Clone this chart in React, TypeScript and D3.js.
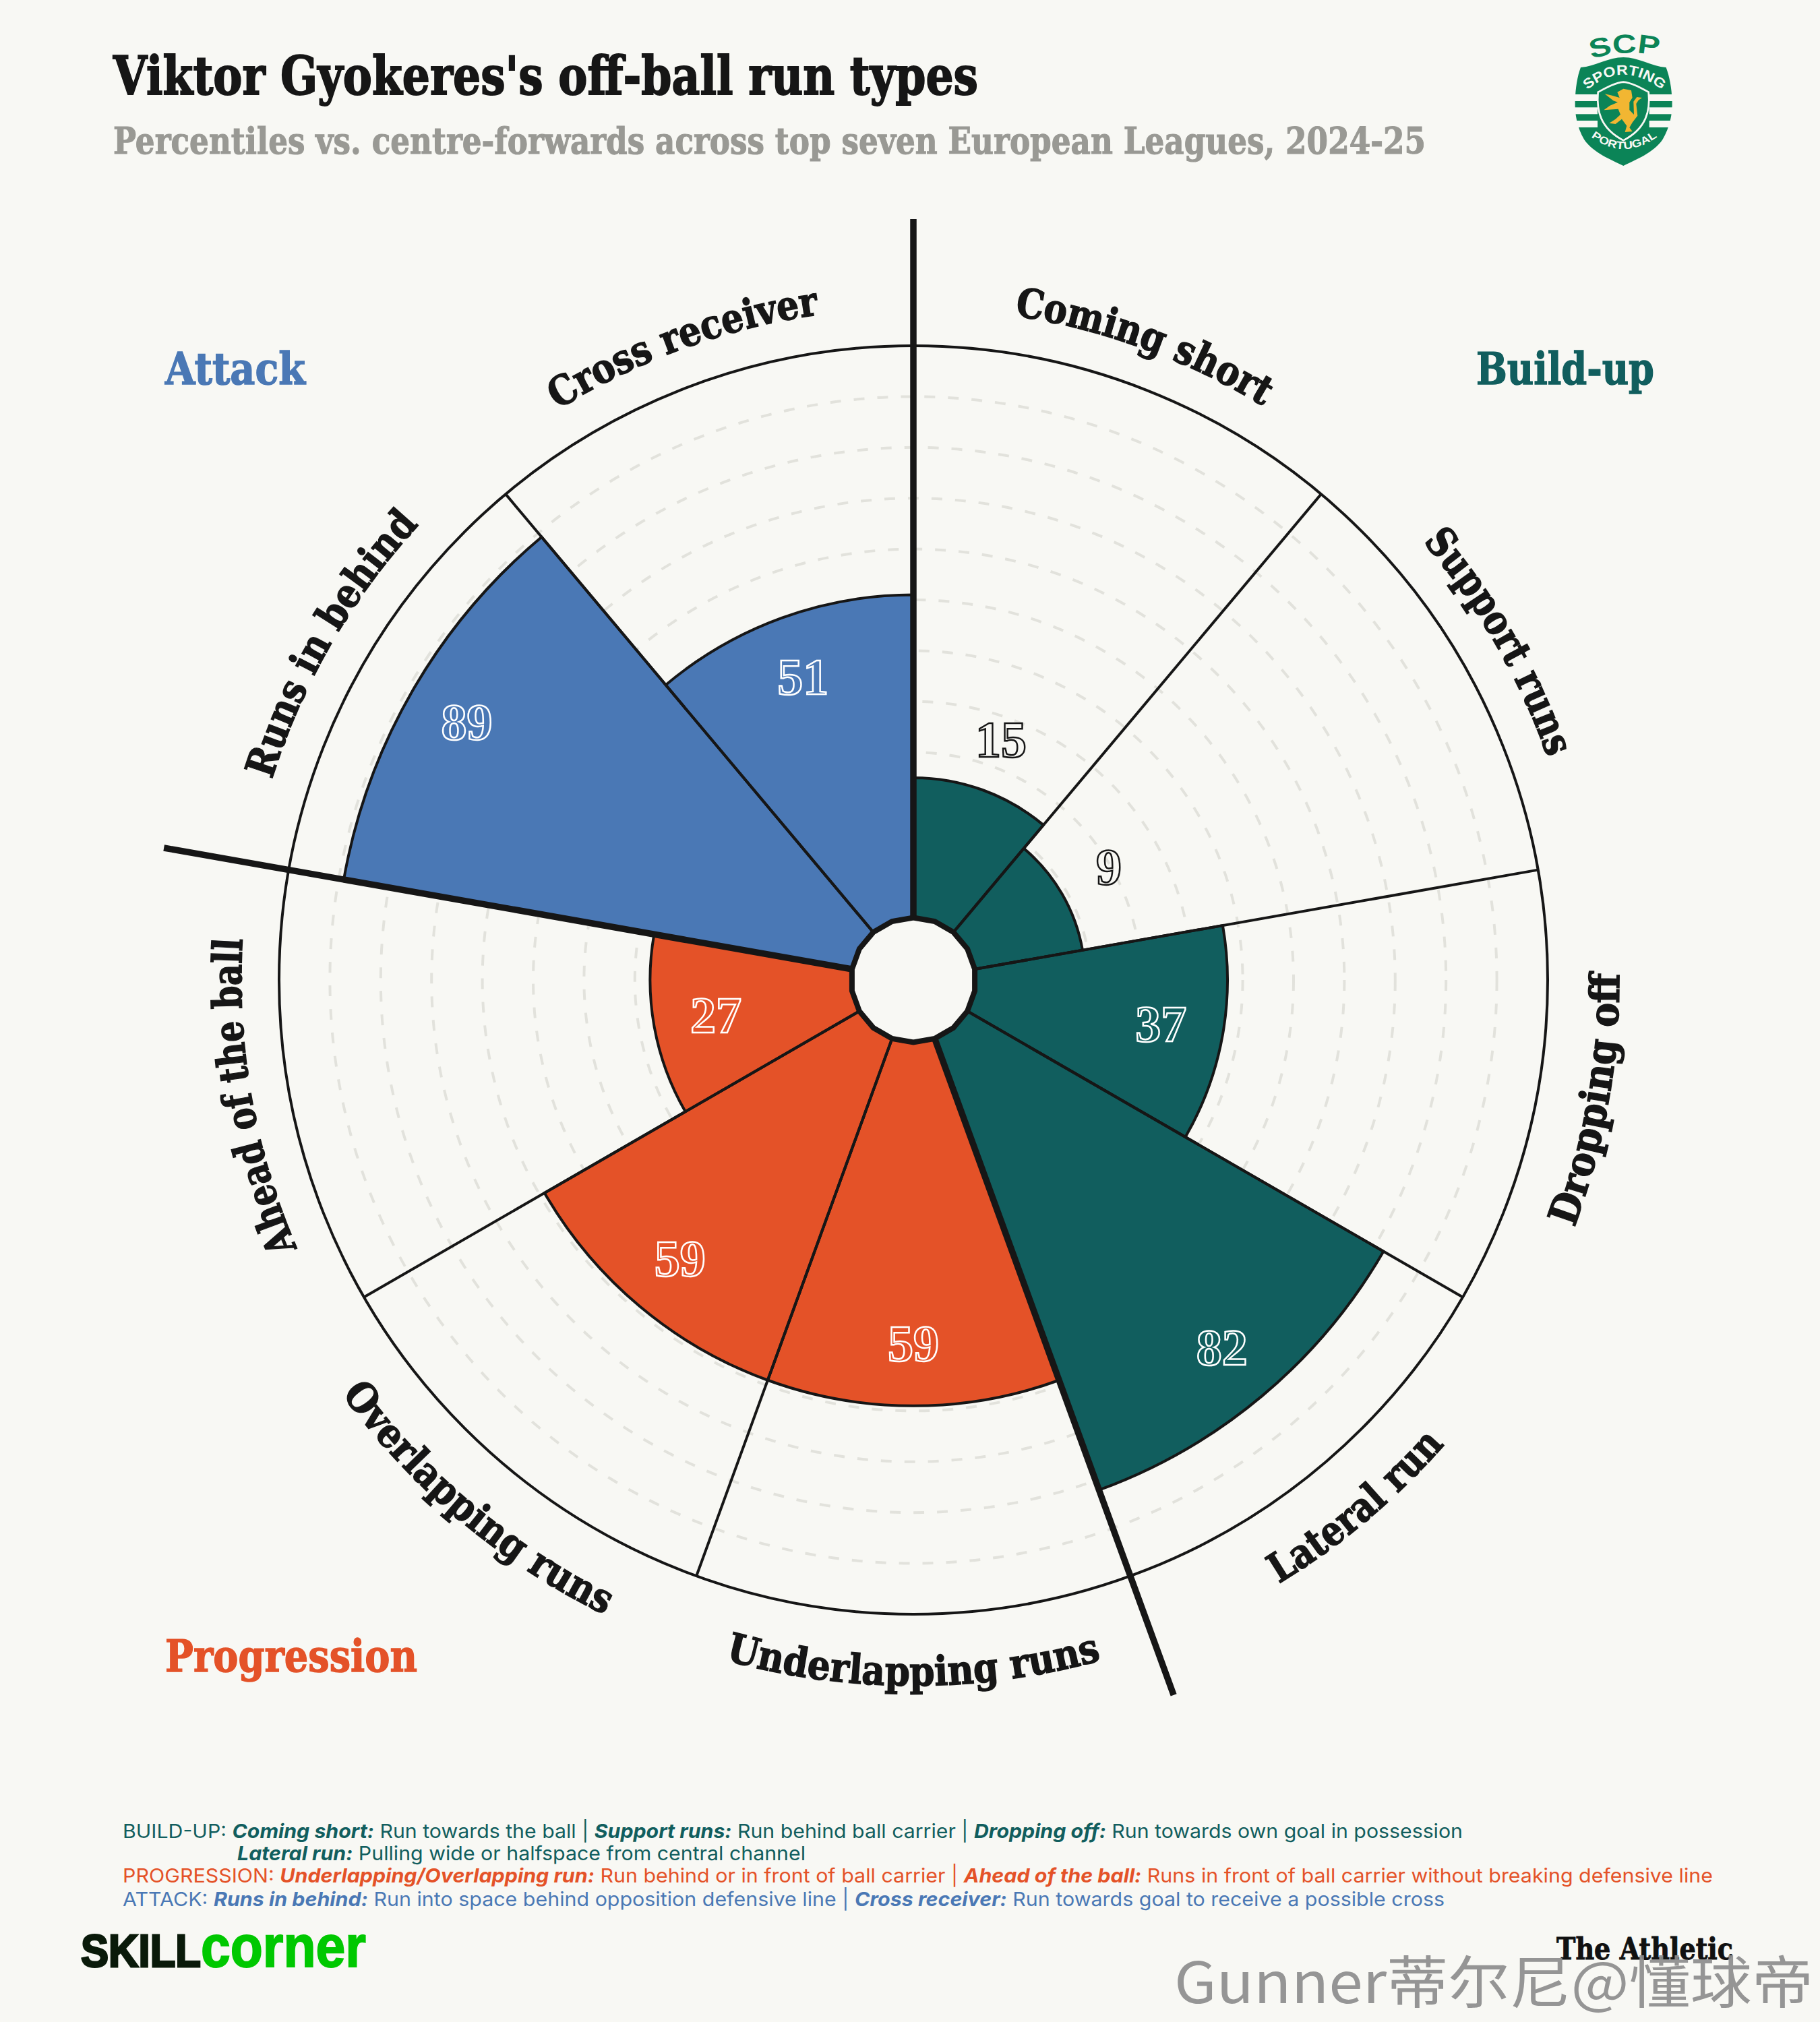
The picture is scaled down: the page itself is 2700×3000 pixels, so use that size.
import * as d3 from 'd3'

const categories = [
  'Coming short',
  'Support runs',
  'Dropping off',
  'Lateral run',
  'Underlapping runs',
  'Overlapping runs',
  'Ahead of the ball',
  'Runs in behind',
  'Cross receiver',
]
const percentiles = [15, 9, 37, 82, 59, 59, 27, 89, 51]
const groups = ['Build-up', 'Build-up', 'Build-up', 'Build-up', 'Progression', 'Progression', 'Progression', 'Attack', 'Attack']
const ringTicks = [10, 20, 30, 40, 50, 60, 70, 80, 90]

const buildUpLine = [
  ['BUILD-UP: ', false],
  ['Coming short:', true],
  [' Run towards the ball | ', false],
  ['Support runs:', true],
  [' Run behind ball carrier | ', false],
  ['Dropping off:', true],
  [' Run towards own goal in possession', false],
]
const lateralLine = [
  ['Lateral run:', true],
  [' Pulling wide or halfspace from central channel', false],
]
const progressionLine = [
  ['PROGRESSION: ', false],
  ['Underlapping/Overlapping run:', true],
  [' Run behind or in front of ball carrier | ', false],
  ['Ahead of the ball:', true],
  [' Runs in front of ball carrier without breaking defensive line', false],
]
const attackLine = [
  ['ATTACK: ', false],
  ['Runs in behind:', true],
  [' Run into space behind opposition defensive line | ', false],
  ['Cross receiver:', true],
  [' Run towards goal to receive a possible cross', false],
]

const WIDTH = 2700
const HEIGHT = 3000
const CX = 1355
const CY = 1454
const OUTER = 941
const HOLE = 92.5
const SPIKE = 1129
const LABEL_R = 1014

const BG = '#f8f8f4'
const INK = '#161616'
const colors: Record<string, string> = { 'Build-up': '#115e5e', Progression: '#e45228', Attack: '#4a78b5' }
const SLAB = '"DejaVu Serif", serif'
const BODY = 'Inter, "Noto Sans", sans-serif'

// arc lengths of the curved labels
const labelLengths: Record<string, number> = {
  'Coming short': 395,
  'Support runs': 372,
  'Dropping off': 385,
  'Lateral run': 322,
  'Underlapping runs': 565,
  'Overlapping runs': 515,
  'Ahead of the ball': 470,
  'Runs in behind': 440,
  'Cross receiver': 415,
}

const angle = d3.scaleBand<string>().domain(categories).range([0, 2 * Math.PI])
const radius = d3.scaleLinear().domain([0, 100]).range([187, OUTER])
const arc = d3.arc()

function labelPath(mid: number, flip: boolean, r: number) {
  const half = Math.PI / 3
  const from = d3.pointRadial(flip ? mid + half : mid - half, r)
  const to = d3.pointRadial(flip ? mid - half : mid + half, r)
  return `M${from[0]},${from[1]}A${r},${r} 0 0 ${flip ? 0 : 1} ${to[0]},${to[1]}`
}

function FooterLine({ line, x, y, color, length }: { line: (string | boolean)[][]; x: number; y: number; color: string; length: number }) {
  return (
    <text x={x} y={y} fill={color} fontFamily={BODY} fontSize={29} textLength={length} lengthAdjust="spacingAndGlyphs">
      {line.map(([t, bold], i) => (
        <tspan key={i} fontWeight={bold ? 700 : 400} fontStyle={bold ? 'italic' : 'normal'} xmlSpace="preserve">
          {t as string}
        </tspan>
      ))}
    </text>
  )
}

function Crest() {
  const green = '#0b8457'
  return (
    <g transform="translate(2280,30) scale(0.3333)">
      <defs>
        <path id="crest-scp" d="M235,175 Q385,125 550,160" />
        <path id="crest-sporting" d="M225,310 Q385,175 555,310" />
        <path id="crest-portugal" d="M232,512 Q385,635 545,512" />
      </defs>
      <text fontFamily="'Liberation Sans', sans-serif" fontWeight={700} fontSize={118} fill={green}>
        <textPath href="#crest-scp" startOffset="50%" textAnchor="middle" textLength={305} lengthAdjust="spacingAndGlyphs">SCP</textPath>
      </text>
      <path
        d="M195,210C260,205 320,165 385,165C450,165 510,205 575,210C590,250 600,300 602,360C604,420 590,480 560,530C520,590 440,620 385,648C330,620 250,590 210,530C180,480 168,420 170,360C172,300 180,250 195,210Z"
        fill={green}
      />
      {[330, 388, 447].map(y => (
        <g key={y} fill={BG}>
          <rect x={165} y={y} width={105} height={30} />
          <rect x={500} y={y} width={105} height={30} />
        </g>
      ))}
      <path
        d="M272,320C310,300 350,278 385,275C420,278 460,300 497,320C505,400 490,480 385,535C280,480 265,400 272,320Z"
        fill={green}
        stroke={BG}
        strokeWidth={8}
      />
      <path
        d="M358,320L385,305L420,312L425,345L412,365L412,400L432,420L430,362L445,342L468,345L452,356L442,372L448,425L425,455L412,478L425,495L392,498L400,470L378,440L350,462L322,458L350,440L372,420L362,395L298,400L325,380L360,365L340,358L302,328L335,335L368,345Z"
        fill="#f2b632"
      />
      <text fontFamily="'Liberation Sans', sans-serif" fontWeight={700} fontSize={62} fill={BG}>
        <textPath href="#crest-sporting" startOffset="50%" textAnchor="middle" textLength={365} lengthAdjust="spacingAndGlyphs">SPORTING</textPath>
      </text>
      <text fontFamily="'Liberation Sans', sans-serif" fontWeight={700} fontSize={48} fill={BG}>
        <textPath href="#crest-portugal" startOffset="50%" textAnchor="middle" textLength={320} lengthAdjust="spacingAndGlyphs">PORTUGAL</textPath>
      </text>
    </g>
  )
}

export default function App() {
  const hole = d3.lineRadial().curve(d3.curveLinearClosed)(
    d3.range(18).map(i => [(i * Math.PI) / 9, HOLE] as [number, number])
  )
  const band = angle.bandwidth()

  return (
    <svg width={WIDTH} height={HEIGHT} viewBox={`0 0 ${WIDTH} ${HEIGHT}`} style={{ position: 'absolute', left: 0, top: 0, display: 'block' }}>
      <rect width={WIDTH} height={HEIGHT} fill={BG} />

      <text x={168} y={140} fontFamily={SLAB} fontWeight={700} fontSize={78} fill={INK} stroke={INK} strokeWidth={2} textLength={1283} lengthAdjust="spacingAndGlyphs">
        Viktor Gyokeres's off-ball run types
      </text>
      <text x={168} y={228} fontFamily={SLAB} fontWeight={700} fontSize={55} fill="#999994" stroke="#999994" strokeWidth={1.2} textLength={1947} lengthAdjust="spacingAndGlyphs">
        Percentiles vs. centre-forwards across top seven European Leagues, 2024-25
      </text>
      <Crest />

      <g fontFamily={SLAB} fontWeight={700} fontSize={66} strokeWidth={1.5}>
        <text x={245} y={570} fill={colors.Attack} stroke={colors.Attack} textLength={208} lengthAdjust="spacingAndGlyphs">Attack</text>
        <text x={2190} y={570} fill={colors['Build-up']} stroke={colors['Build-up']} textLength={264} lengthAdjust="spacingAndGlyphs">Build-up</text>
        <text x={245} y={2480} fill={colors.Progression} stroke={colors.Progression} textLength={374} lengthAdjust="spacingAndGlyphs">Progression</text>
      </g>

      <g transform={`translate(${CX},${CY})`}>
        <circle r={OUTER} fill="none" stroke={INK} strokeWidth={4} />
        {ringTicks.map(t => (
          <circle key={t} r={radius(t)} fill="none" stroke="#e2e2dc" strokeWidth={4} strokeDasharray="16 19" />
        ))}

        {categories.map((c, i) => {
          const start = angle(c) as number
          return (
            <path
              key={c}
              d={arc({ innerRadius: HOLE, outerRadius: radius(percentiles[i]), startAngle: start, endAngle: start + band }) as string}
              fill={colors[groups[i]]}
              stroke={INK}
              strokeWidth={4}
            />
          )
        })}

        {categories.map(c => {
          const [x, y] = d3.pointRadial(angle(c) as number, OUTER)
          return <line key={c} x1={0} y1={0} x2={x} y2={y} stroke={INK} strokeWidth={4} />
        })}
        {categories
          .filter((c, i) => i === 0 || groups[i] !== groups[i - 1])
          .map(c => {
            const [x, y] = d3.pointRadial(angle(c) as number, SPIKE)
            return <line key={c} x1={0} y1={0} x2={x} y2={y} stroke={INK} strokeWidth={9.5} />
          })}

        <path d={hole as string} fill={BG} stroke={INK} strokeWidth={8} />

        {categories.map((c, i) => {
          const mid = (angle(c) as number) + band / 2
          const inside = percentiles[i] >= 20
          const r = radius(percentiles[i]) + (inside ? -93 : 80)
          const [x, y] = d3.pointRadial(mid, r)
          return (
            <text
              key={c}
              x={x}
              y={y}
              textAnchor="middle"
              dy="0.34em"
              fontFamily="'Liberation Serif', serif"
              fontWeight={700}
              fontSize={76}
              fill={inside ? colors[groups[i]] : BG}
              stroke={inside ? '#ffffff' : INK}
              strokeWidth={2.5}
            >
              {percentiles[i]}
            </text>
          )
        })}

        {categories.map(c => {
          const mid = (angle(c) as number) + band / 2
          const deg = (mid * 180) / Math.PI
          const flip = deg > 90 && deg < 250
          const id = `label-${categories.indexOf(c)}`
          return (
            <g key={c}>
              <path id={id} d={labelPath(mid, flip, LABEL_R + (flip ? 33 : -17))} fill="none" />
              <text fontFamily={SLAB} fontWeight={700} fontSize={60} fill={INK} stroke={INK} strokeWidth={1.5}>
                <textPath href={`#${id}`} startOffset="50%" textAnchor="middle" textLength={labelLengths[c]} lengthAdjust="spacingAndGlyphs">
                  {c}
                </textPath>
              </text>
            </g>
          )
        })}
      </g>

      <FooterLine line={buildUpLine} x={182} y={2727} color={colors['Build-up']} length={1988} />
      <FooterLine line={lateralLine} x={352} y={2760} color={colors['Build-up']} length={843} />
      <FooterLine line={progressionLine} x={182} y={2793} color={colors.Progression} length={2359} />
      <FooterLine line={attackLine} x={182} y={2828} color={colors.Attack} length={1961} />

      <g fontFamily="'Liberation Sans', sans-serif" fontWeight={700}>
        <text x={120} y={2918} fontSize={68} fill="#0a1a0a" stroke="#0a1a0a" strokeWidth={3} textLength={178} lengthAdjust="spacingAndGlyphs">SKILL</text>
        <text x={298} y={2918} fontSize={88} fill="#00c800" stroke="#00c800" strokeWidth={2} textLength={245} lengthAdjust="spacingAndGlyphs">corner</text>
      </g>
      <text x={2309} y={2907} fontFamily={SLAB} fontWeight={700} fontSize={44} fill="#111111" stroke="#111111" strokeWidth={1} textLength={262} lengthAdjust="spacingAndGlyphs">
        The Athletic
      </text>
      <text x={1742} y={2972} fontFamily="'Noto Sans CJK SC', sans-serif" fontSize={84} fill="#8c8c8c" fillOpacity={0.92} textLength={948} lengthAdjust="spacingAndGlyphs">
        Gunner蒂尔尼@懂球帝
      </text>
    </svg>
  )
}
